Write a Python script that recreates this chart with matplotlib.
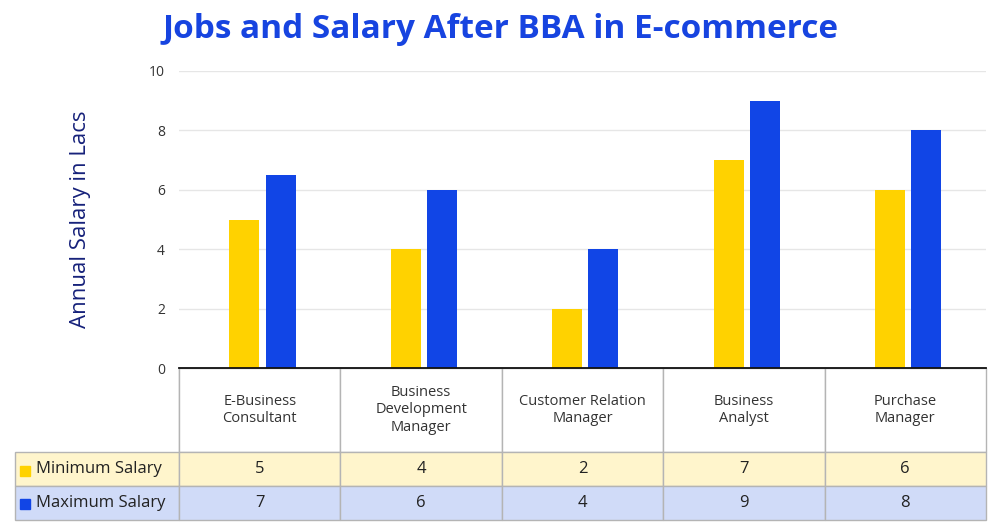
import matplotlib.pyplot as plt
import numpy as np

plt.rcParams['font.family'] = ['Open Sans', 'DejaVu Sans']

categories = ['E-Business\nConsultant', 'Business\nDevelopment\nManager',
              'Customer Relation\nManager', 'Business\nAnalyst', 'Purchase\nManager']
series_names = ['Minimum Salary', 'Maximum Salary']
min_salary = [5, 4, 2, 7, 6]
max_salary = [6.5, 6, 4, 9, 8]
# the table in the source shows rounded figures
min_labels = ['5', '4', '2', '7', '6']
max_labels = ['7', '6', '4', '9', '8']
y_ticks = [0, 2, 4, 6, 8, 10]

yellow = '#FFD200'
blue = '#1145E6'

fig = plt.figure(figsize=(10, 5.27), dpi=100)
W, H = 1000, 527
ax = fig.add_axes([179 / W, 1 - 368 / H, 807 / W, 297 / H])

x = np.arange(len(categories))
bw = 0.186
ax.bar(x - 0.095, min_salary, width=bw, color=yellow, zorder=3)
ax.bar(x + 0.13, max_salary, width=bw, color=blue, zorder=3)

ax.set_xlim(-0.5, len(categories) - 0.5)
ax.set_ylim(0, 10)
ax.set_yticks(y_ticks)
ax.set_xticks([])
ax.tick_params(axis='y', length=0, pad=10, labelsize=10, labelcolor='#333333')
ax.yaxis.grid(True, color='#e6e6e6', linewidth=1, zorder=0)
for s in ['top', 'right', 'left']:
    ax.spines[s].set_visible(False)
ax.spines['bottom'].set_color('#111111')
ax.spines['bottom'].set_linewidth(1.3)
ax.spines['bottom'].set_zorder(5)

ax.set_ylabel('Annual Salary in Lacs', fontsize=16, color='#16217a', labelpad=42)

fig.text(0.5, 1 - 30 / H, 'Jobs and Salary After BBA in E-commerce',
         ha='center', va='center', fontsize=24, fontweight='bold', color='#1744E0')

# data table under the chart (first column holds the series names)
px_w = 807.0
px_h = 297.0
rows = [[series_names[0]] + min_labels, [series_names[1]] + max_labels]
tbl = ax.table(cellText=rows, colLabels=[''] + categories, cellLoc='center',
               colWidths=[164 / px_w] + [161.4 / px_w] * len(categories),
               bbox=[(15 - 179) / px_w, (368 - 520) / px_h, 971 / px_w, 152 / px_h])
tbl.auto_set_font_size(False)
row_bg = ['#FFF5CC', '#D0DBF8']
for (r, c), cell in tbl.get_celld().items():
    cell.set_edgecolor('#b4b4b4')
    cell.set_linewidth(1.0)
    if r == 0:
        cell.set_height(84 / px_h)
        cell.set_fontsize(10.5)
        cell.get_text().set_color('#333333')
        cell.get_text().set_linespacing(1.25)
        if c == 0:
            cell.visible_edges = 'R'
    else:
        cell.set_height(34 / px_h)
        cell.set_facecolor(row_bg[r - 1])
        cell.set_fontsize(12)
        cell.get_text().set_color('#222222')
        if c == 0:
            cell.PAD = 0.13
            cell.get_text().set_ha('left')
            cell._loc = 'left'

# coloured legend squares in front of the series names
for i, col in enumerate([yellow, blue]):
    ax.plot([(25 - 179) / px_w], [(368 - 471 - i * 33) / px_h], marker='s',
            markersize=7, color=col, transform=ax.transAxes, clip_on=False,
            zorder=10)

fig.savefig('out.png', dpi=100)
